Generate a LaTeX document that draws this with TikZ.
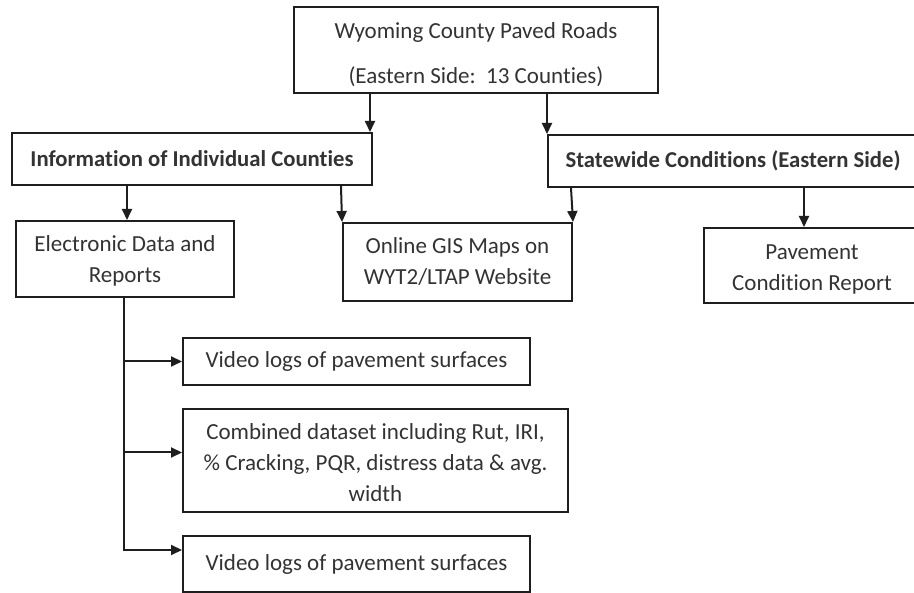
\documentclass[tikz,border=0pt]{standalone}
\usepackage{fontspec}
\setmainfont{Carlito}[Ligatures=CommonOff]
\usetikzlibrary{arrows.meta,calc}
\definecolor{txt}{HTML}{333333}
\definecolor{ln}{HTML}{1E1E1E}
\tikzset{
  box/.style={draw=ln, line width=2pt, rectangle, inner sep=0pt, align=center, text=txt,
    font=\fontsize{23}{31}\selectfont},
  bbox/.style={box, font=\fontsize{22.7}{31}\selectfont\bfseries},
  arr/.style={draw=ln, line width=2pt, -{Triangle[length=11pt,width=10pt]}},
  ln/.style={draw=ln, line width=2pt}
}
\begin{document}
\begin{tikzpicture}[x=1pt,y=-1pt]
\useasboundingbox (0,0) rectangle (914,593);
\fill[white] (0,0) rectangle (914,593);
\node[box, minimum width=364pt, minimum height=86pt] (top) at (476,50)
  {\rule{0pt}{25pt}Wyoming County Paved Roads\\[14pt](Eastern Side:\ \ 13 Counties)};
\node[bbox, minimum width=360pt, minimum height=52pt] (info) at (192,159)
  {Information of Individual Counties};
\node[bbox, minimum width=370pt, minimum height=52pt] (state) at (733,161)
  {Statewide Conditions (Eastern Side)};
\node[box, minimum width=218pt, minimum height=76pt] (elec) at (125,259)
  {\rule{0pt}{20pt}Electronic Data and\\Reports};
\node[box, minimum width=229pt, minimum height=78pt] (gis) at (457.5,262)
  {Online GIS Maps on\\WYT2/LTAP Website};
\node[box, minimum width=216pt, minimum height=75pt] (pave) at (812,265.5)
  {\rule{0pt}{23pt}Pavement\\Condition Report};
\node[box, minimum width=347pt, minimum height=47pt] (v1) at (356.5,361.5)
  {Video logs of pavement surfaces};
\node[box, minimum width=385pt, minimum height=103pt] (comb) at (375.5,460.5)
  {\rule{0pt}{20pt}Combined dataset including Rut, IRI,\\\% Cracking, PQR, distress data \& avg.\\width};
\node[box, minimum width=347pt, minimum height=56pt] (v2) at (356.5,564)
  {Video logs of pavement surfaces};
% connector end points
\coordinate (trunk) at ([xshift=-1pt]elec.south);
\coordinate (combin) at ([yshift=8pt]comb.west);
\coordinate (v2in) at ([yshift=14pt]v2.west);
% connectors
\draw[arr] ([xshift=-3pt]info.north east |- top.south) -- ([xshift=-3pt]info.north east);
\draw[arr] (state.north west |- top.south) -- (state.north west);
\draw[arr] ([xshift=2pt]elec.north |- info.south) -- ([xshift=2pt]elec.north);
\draw[arr] ([xshift=-1pt]gis.north west |- info.south) -- (gis.north west);
\draw[arr] ([xshift=-2pt]gis.north east |- state.south) -- (gis.north east);
\draw[arr] ([xshift=-8pt]pave.north |- state.south) -- ([xshift=-8pt]pave.north);
\draw[ln] (trunk) -- (trunk |- v2in);
\draw[arr] (trunk |- v1.west) -- (v1.west);
\draw[arr] (trunk |- combin) -- (combin);
\draw[arr] ([xshift=-1pt]trunk |- v2in) -- (v2in);
\end{tikzpicture}
\end{document}
